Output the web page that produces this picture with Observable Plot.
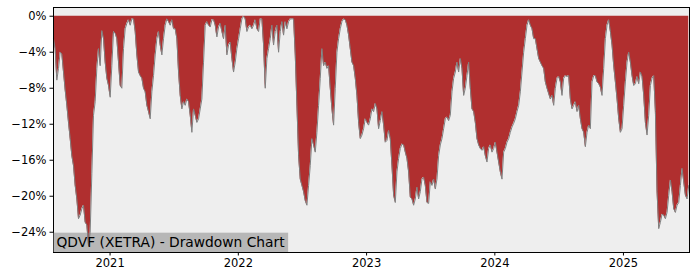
<!DOCTYPE html>
<html><head><meta charset="utf-8">
<script src="https://cdn.jsdelivr.net/npm/d3@7"></script>
<script src="https://cdn.jsdelivr.net/npm/@observablehq/plot@0.6"></script>
<style>body{margin:0;background:#fff}</style>
</head><body><div id="chart"></div>
<script>
const title = "QDVF (XETRA) - Drawdown Chart";
const startDate = "2020-07-24";
const endDate = "2025-07-08";
const stepDays = 4.745;
// drawdown in percent, sampled every ~4.75 days from startDate
const drawdown = [
-2.5,-3.6,-7.1,-5.8,-4.0,-4.2,-6.2,-8.2,-9.9,-11.8,-13.6,-15.5,-16.6,-18.8,-20.3,-22.5,-22.1,-21.4,-21.0,-22.9,-23.2,-25.5,-24.0,-17.5,-11.0,-9.5,-5.8,-3.6,-5.5,-1.6,-2.5,-5.1,-6.9,-7.7,-9.0,-5.5,-1.7,-1.9,-2.5,-5.1,-7.7,-8.0,-3.6,-1.4,-0.8,-0.4,-1.0,
-0.3,-0.3,-1.7,-4.3,-6.2,-6.6,-6.9,-8.0,-8.4,-9.9,-10.6,-11.4,-8.4,-6.6,-4.3,-2.5,-1.7,-3.2,-4.3,-2.5,-1.0,-0.3,-0.6,-1.0,-0.4,-1.4,-1.4,-2.5,-6.2,-8.8,-10.3,-9.5,-9.9,-9.2,-9.5,-11.0,-12.9,-10.3,-11.0,-11.8,-11.4,-10.3,-9.2,-5.1,-1.0,-0.6,-1.0,-1.2,
-0.4,-0.4,-1.0,-2.3,-1.2,-0.8,-1.7,-2.5,-1.0,-4.3,-3.2,-2.9,-4.7,-6.2,-5.1,-3.6,-2.5,-1.4,-0.3,0,-0.3,-1.7,-1.2,-1.0,-1.4,-1.0,-0.4,-1.4,-1.7,-0.3,-0.3,-3.2,-8.0,-4.7,-3.6,-2.5,-1.0,-3.2,-1.7,-1.0,-4.0,-1.7,-0.6,-2.1,-0.6,-1.4,-0.6,-0.3,
-0.3,-0.3,-4.3,-9.9,-15.5,-18.1,-18.8,-19.5,-20.5,-21.0,-18.8,-16.6,-13.6,-14.3,-15.1,-12.9,-9.9,-6.9,-3.6,-5.5,-5.1,-5.8,-5.5,-8.0,-10.3,-12.1,-8.0,-4.0,-2.5,-1.4,-0.6,-0.3,-0.4,-1.0,-2.1,-3.6,-5.1,-5.5,-6.9,-8.8,-11.8,-13.6,-13.2,-12.5,-11.4,-11.8,-12.1,-11.4,
-10.3,-10.6,-9.7,-10.3,-12.5,-11.6,-10.6,-12.1,-14.0,-13.8,-12.7,-13.6,-16.6,-19.9,-20.7,-17.3,-15.8,-14.7,-14.2,-14.3,-15.1,-15.8,-17.3,-20.1,-20.3,-21.0,-20.3,-19.0,-20.3,-19.5,-18.1,-17.9,-18.8,-20.7,-20.8,-18.4,-18.8,-18.1,-19.2,-18.1,-15.5,-14.3,-13.6,-12.5,-11.4,-11.2,-11.6,-11.0,
-8.4,-6.9,-6.2,-5.1,-6.2,-4.7,-5.8,-8.8,-8.0,-6.6,-5.1,-8.0,-10.3,-10.6,-11.8,-13.6,-14.3,-14.7,-14.9,-14.5,-15.5,-16.2,-14.7,-14.3,-15.1,-14.7,-14.0,-15.1,-16.2,-17.3,-18.1,-15.1,-14.7,-14.0,-13.6,-12.9,-12.3,-11.9,-11.4,-10.6,-9.9,-8.4,-6.2,-4.0,-2.5,-1.0,-0.4,-1.0,
-1.4,-2.5,-2.5,-3.6,-4.7,-5.1,-5.5,-5.8,-7.3,-8.0,-8.6,-9.2,-8.8,-9.9,-8.0,-6.9,-6.7,-7.3,-8.8,-6.9,-6.6,-6.7,-6.6,-9.2,-10.3,-9.9,-9.5,-10.6,-9.9,-11.4,-12.5,-12.9,-14.5,-12.9,-12.1,-12.5,-7.3,-6.6,-6.6,-7.3,-7.5,-7.9,-8.8,-5.8,-2.5,-1.0,-0.4,-1.7,
-3.2,-5.5,-7.3,-9.2,-11.4,-12.9,-12.5,-9.9,-7.3,-5.1,-4.0,-5.1,-6.6,-7.7,-7.5,-6.7,-7.5,-6.2,-6.7,-8.8,-11.8,-13.2,-11.0,-7.7,-6.9,-6.6,-10.6,-19.5,-23.6,-22.9,-22.0,-22.1,-22.5,-21.8,-19.9,-18.2,-19.5,-21.4,-21.8,-21.0,-20.7,-18.8,-16.9,-18.4,-19.9,-20.3,-18.8
];
const yTicks = [0, -4, -8, -12, -16, -20, -24];
const xTicks = ["2021-01-01", "2022-01-01", "2023-01-01", "2024-01-01", "2025-01-01"];
const yDomain = [-26.25, 0.97];

const t0 = new Date(startDate).getTime();
const data = drawdown.map((v, i) => ({date: new Date(t0 + i * stepDays * 864e5), v}));
const fmtPct = d => (d < 0 ? "\u2212" + Math.abs(d) : String(d)) + "%";

const chart = Plot.plot({
  width: 700, height: 280,
  marginLeft: 53, marginRight: 11, marginTop: 7, marginBottom: 28,
  style: {fontFamily: "DejaVu Sans", fontSize: "11.5px", color: "black", background: "white"},
  x: {type: "utc", domain: [new Date(startDate), new Date(endDate)]},
  y: {domain: yDomain},
  marks: [
    Plot.frame({fill: "#eeeeee"}),
    Plot.areaY(data, {x: "date", y1: 0, y2: "v", fill: "#b02f2f"}),
    Plot.lineY(data, {x: "date", y: "v", stroke: "#808080", strokeWidth: 1}),
    Plot.frame({stroke: "black", strokeWidth: 1}),
    Plot.axisY({ticks: yTicks, tickFormat: fmtPct, tickSize: 3.5, tickPadding: 3.5, label: null, fontSize: 11.5}),
    Plot.axisX({ticks: xTicks.map(d => new Date(d)), tickFormat: d3.utcFormat("%Y"), tickSize: 3.5, tickPadding: 3, label: null, fontSize: 11.5})
  ]
});
document.getElementById("chart").appendChild(chart);

// title box in lower-left corner of the plot area
const xr = chart.scale("x").range, yr = chart.scale("y").range;
const left = Math.min(...xr), bottom = Math.max(...yr);
const g = d3.select(chart).append("g");
const rect = g.append("rect").attr("fill", "gray").attr("fill-opacity", 0.5);
const txt = g.append("text")
  .attr("x", left + 3.5).attr("y", bottom - 5)
  .attr("text-anchor", "start")
  .attr("font-family", "DejaVu Sans").attr("font-size", "13.8px").attr("fill", "black")
  .text(title);
const w = txt.node().getComputedTextLength();
rect.attr("x", left).attr("y", bottom - 19.3).attr("width", w + 7).attr("height", 19.3);
</script>
</body></html>
